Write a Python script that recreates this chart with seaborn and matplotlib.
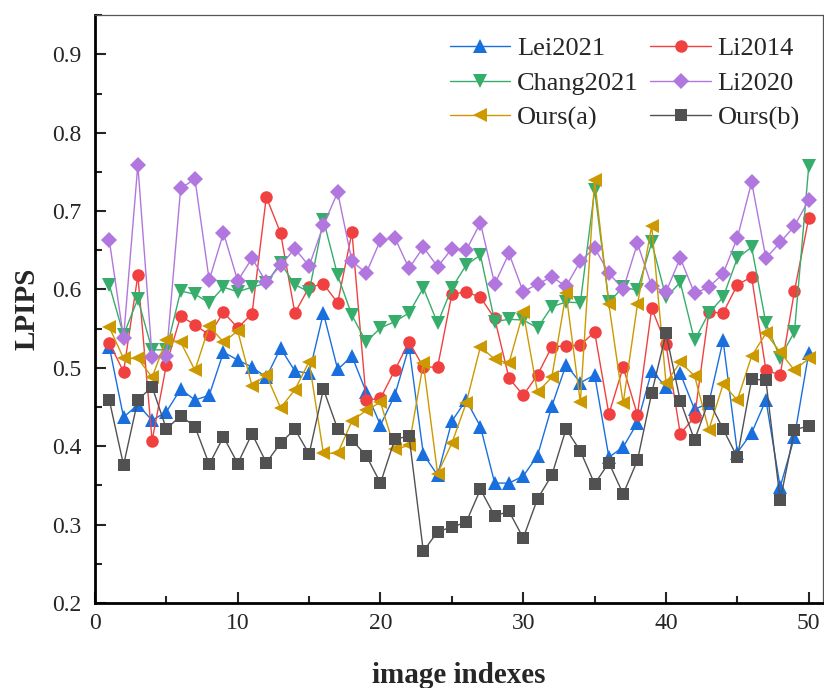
import numpy as np
import pandas as pd
import seaborn as sns
import matplotlib.pyplot as plt
from matplotlib.ticker import MultipleLocator

# values
idx = list(range(1, 51))
lei2021 = [0.527, 0.437, 0.453, 0.433, 0.444, 0.473, 0.459, 0.465, 0.520, 0.510,
           0.501, 0.488, 0.525, 0.496, 0.493, 0.570, 0.498, 0.515, 0.469, 0.427,
           0.465, 0.527, 0.390, 0.363, 0.432, 0.459, 0.425, 0.353, 0.353, 0.362,
           0.388, 0.451, 0.504, 0.481, 0.491, 0.386, 0.399, 0.430, 0.496, 0.476,
           0.493, 0.447, 0.455, 0.535, 0.392, 0.417, 0.459, 0.348, 0.412, 0.519]
li2014 = [0.532, 0.495, 0.618, 0.407, 0.504, 0.566, 0.555, 0.542, 0.571, 0.551,
          0.569, 0.718, 0.672, 0.570, 0.603, 0.607, 0.583, 0.673, 0.459, 0.461,
          0.497, 0.533, 0.501, 0.501, 0.594, 0.597, 0.590, 0.563, 0.487, 0.465,
          0.491, 0.527, 0.528, 0.529, 0.546, 0.441, 0.501, 0.440, 0.576, 0.530,
          0.416, 0.437, 0.571, 0.570, 0.606, 0.616, 0.497, 0.491, 0.598, 0.691]
chang2021 = [0.606, 0.542, 0.588, 0.523, 0.523, 0.598, 0.594, 0.583, 0.603, 0.597,
             0.603, 0.608, 0.634, 0.606, 0.597, 0.689, 0.618, 0.567, 0.533, 0.551,
             0.559, 0.570, 0.602, 0.557, 0.602, 0.631, 0.644, 0.559, 0.562, 0.561,
             0.551, 0.578, 0.584, 0.583, 0.727, 0.584, 0.603, 0.599, 0.660, 0.590,
             0.609, 0.535, 0.570, 0.590, 0.640, 0.654, 0.557, 0.513, 0.546, 0.757]
li2020 = [0.663, 0.538, 0.759, 0.514, 0.515, 0.729, 0.741, 0.612, 0.672, 0.611,
          0.640, 0.609, 0.631, 0.652, 0.630, 0.682, 0.724, 0.636, 0.621, 0.663,
          0.666, 0.627, 0.654, 0.629, 0.652, 0.650, 0.685, 0.607, 0.646, 0.597,
          0.607, 0.616, 0.604, 0.636, 0.653, 0.621, 0.600, 0.659, 0.604, 0.597,
          0.640, 0.595, 0.603, 0.620, 0.666, 0.737, 0.640, 0.660, 0.681, 0.714]
ours_a = [0.552, 0.512, 0.512, 0.488, 0.536, 0.533, 0.497, 0.553, 0.533, 0.547,
          0.477, 0.491, 0.449, 0.472, 0.508, 0.391, 0.391, 0.432, 0.446, 0.456,
          0.396, 0.401, 0.506, 0.365, 0.404, 0.455, 0.527, 0.511, 0.506, 0.571,
          0.469, 0.488, 0.595, 0.456, 0.740, 0.581, 0.455, 0.581, 0.681, 0.481,
          0.507, 0.490, 0.421, 0.479, 0.459, 0.515, 0.544, 0.520, 0.497, 0.512]
ours_b = [0.459, 0.376, 0.459, 0.476, 0.422, 0.439, 0.425, 0.377, 0.412, 0.378,
          0.416, 0.379, 0.404, 0.422, 0.390, 0.473, 0.422, 0.408, 0.388, 0.353,
          0.409, 0.413, 0.266, 0.291, 0.297, 0.303, 0.345, 0.311, 0.317, 0.283,
          0.333, 0.363, 0.422, 0.394, 0.352, 0.379, 0.339, 0.382, 0.468, 0.544,
          0.458, 0.408, 0.458, 0.422, 0.386, 0.486, 0.484, 0.331, 0.421, 0.426]

series = [
    ("Lei2021", lei2021, "#1a6fdf", "^", 10),
    ("Li2014", li2014, "#f14040", "o", 9),
    ("Chang2021", chang2021, "#37ad6b", "v", 10),
    ("Li2020", li2020, "#b177de", "D", 8.5),
    ("Ours(a)", ours_a, "#cc9900", "<", 10),
    ("Ours(b)", ours_b, "#515151", "s", 8.5),
]

sns.set_style("ticks")
plt.rcParams['font.family'] = ['Liberation Serif', 'DejaVu Serif']

fig = plt.figure(figsize=(8.24, 6.88), dpi=100)
ax = fig.add_axes([0.1153, 0.1235, 0.8835, 0.8545])

for name, vals, col, mk, ms in series:
    sns.lineplot(x=idx, y=vals, ax=ax, color=col, marker=mk, markersize=ms,
                 linewidth=1, mec=col, mew=0, label=name)

ax.set_xlim(0, 51)
ax.set_ylim(0.2, 0.95)
ax.xaxis.set_major_locator(MultipleLocator(10))
ax.xaxis.set_minor_locator(MultipleLocator(5))
ax.yaxis.set_minor_locator(MultipleLocator(0.05))
ax.set_yticks(np.arange(0.2, 0.91, 0.1))
ax.set_yticklabels([f"{v:.1f}" for v in np.arange(0.2, 0.91, 0.1)])
ax.tick_params(which='both', direction='in', top=False, right=False,
               labelsize=17, width=1.5)
ax.tick_params(axis='y', which='major', length=8, pad=10)
ax.tick_params(axis='x', which='major', length=8, pad=7)
ax.tick_params(which='minor', length=5)

for s in ['left', 'bottom']:
    ax.spines[s].set_linewidth(2)
    ax.spines[s].set_color('black')
for s in ['top', 'right']:
    ax.spines[s].set_linewidth(0.9)
    ax.spines[s].set_color('#555555')

ax.set_xlabel("image indexes", fontsize=21, fontweight='bold', labelpad=20)
ax.set_ylabel("LPIPS", fontsize=21, fontweight='bold', labelpad=8)

h, l = ax.get_legend_handles_labels()
order = [0, 2, 4, 1, 3, 5]
ax.legend([h[i] for i in order], [l[i] for i in order], ncol=2, frameon=False,
          fontsize=19, loc='upper right', bbox_to_anchor=(0.99, 0.99),
          handlelength=2.3, columnspacing=0.45, handletextpad=0.25,
          labelspacing=0.42, borderaxespad=0.2)

fig.savefig("out.png", dpi=100)
